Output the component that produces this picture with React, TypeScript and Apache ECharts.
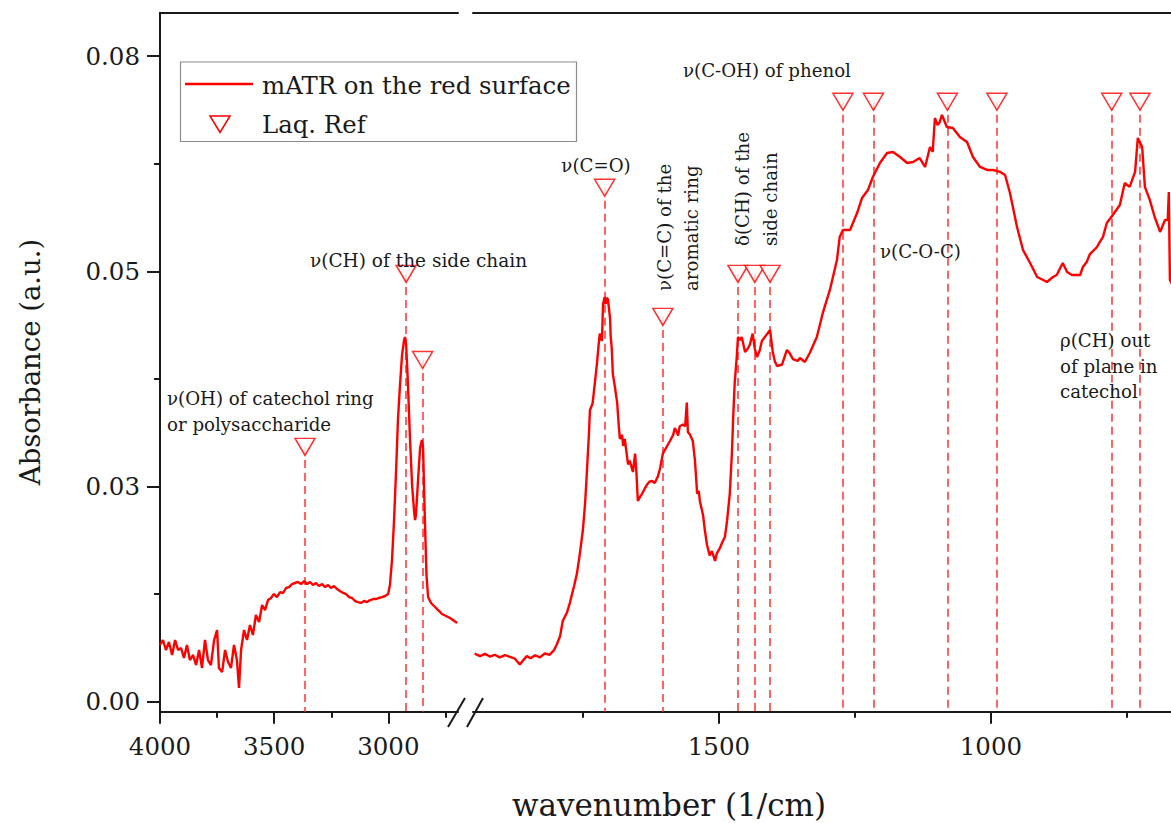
import React, { useEffect, useRef } from 'react';
import * as echarts from 'echarts';

const FONT = '"DejaVu Serif", "Liberation Serif", serif';
const INK = '#1a1a1a';
const RED = '#ff0000';
const REF_RED = '#ff3030';

// ---- data (wavenumber, absorbance) ----
const leftSpectrum: number[][] = [
  [4000, 0.00659], [3987, 0.00717], [3974, 0.00601], [3961, 0.00694], [3947, 0.00543],
  [3934, 0.00717], [3921, 0.00601], [3908, 0.00624], [3895, 0.00508], [3882, 0.00659],
  [3869, 0.00484], [3855, 0.00543], [3842, 0.00426], [3829, 0.00601], [3816, 0.00392],
  [3803, 0.00717], [3790, 0.00484], [3777, 0.00426], [3763, 0.00717], [3750, 0.00833],
  [3742, 0.00392], [3728, 0.00345], [3715, 0.00601], [3702, 0.00461], [3689, 0.00392],
  [3676, 0.00659], [3663, 0.00484], [3654, 0.00159], [3645, 0.00601], [3632, 0.00833],
  [3619, 0.00717], [3606, 0.00891], [3593, 0.00775], [3580, 0.01007], [3566, 0.00926],
  [3553, 0.01123], [3540, 0.01065], [3527, 0.01181], [3514, 0.01205], [3501, 0.01251],
  [3488, 0.01216], [3474, 0.01274], [3461, 0.01263], [3448, 0.01321], [3435, 0.01332],
  [3422, 0.01367], [3409, 0.01379], [3396, 0.01391], [3382, 0.01367], [3369, 0.01402],
  [3356, 0.01367], [3343, 0.01391], [3330, 0.01356], [3317, 0.01379], [3304, 0.01344],
  [3290, 0.01367], [3277, 0.01332], [3264, 0.01356], [3251, 0.01321], [3238, 0.01344],
  [3225, 0.01309], [3212, 0.01286], [3198, 0.01263], [3185, 0.01251], [3172, 0.01216],
  [3159, 0.01205], [3146, 0.0117], [3133, 0.01158], [3120, 0.01147], [3106, 0.0117],
  [3093, 0.01158], [3080, 0.01181], [3067, 0.01193], [3054, 0.01193], [3041, 0.01205],
  [3028, 0.01216], [3014, 0.01228], [3001, 0.01251], [2993, 0.01356], [2984, 0.01646],
  [2975, 0.02111], [2966, 0.02692], [2958, 0.03272], [2949, 0.03679], [2940, 0.04028],
  [2931, 0.04202], [2927, 0.04237], [2922, 0.04144], [2914, 0.03679], [2905, 0.0304],
  [2896, 0.02517], [2887, 0.02204], [2883, 0.02111], [2879, 0.02169], [2870, 0.02575],
  [2861, 0.02947], [2853, 0.0304], [2848, 0.02947], [2840, 0.02111], [2833, 0.01472],
  [2826, 0.01216], [2813, 0.01147], [2800, 0.01112], [2782, 0.01065], [2765, 0.01019],
  [2747, 0.00996], [2730, 0.00972], [2717, 0.00949], [2699, 0.00914],
];

const rightSpectrum: number[][] = [
  [1949, 0.00559], [1939, 0.0053], [1930, 0.00556], [1921, 0.00525], [1912, 0.00545],
  [1903, 0.00515], [1893, 0.0054], [1884, 0.0052], [1875, 0.005], [1866, 0.00432],
  [1860, 0.0048], [1853, 0.0053], [1846, 0.00505], [1838, 0.0054], [1829, 0.00515],
  [1820, 0.0056], [1811, 0.00545], [1803, 0.006], [1798, 0.00665], [1792, 0.0076],
  [1787, 0.00938], [1779, 0.0104], [1774, 0.01147], [1766, 0.0135], [1761, 0.01488],
  [1756, 0.017], [1750, 0.01995], [1746, 0.023], [1743, 0.02628], [1739, 0.031],
  [1737, 0.03389], [1733, 0.0345], [1732, 0.03474], [1728, 0.037], [1724, 0.03938],
  [1721, 0.0415], [1719, 0.04276], [1715, 0.0419], [1713, 0.04614], [1710, 0.04701],
  [1708, 0.0462], [1706, 0.0469], [1704, 0.04678], [1700, 0.04446], [1699, 0.0425],
  [1697, 0.04109], [1695, 0.03812], [1691, 0.0365], [1687, 0.03474], [1684, 0.032],
  [1682, 0.03052], [1678, 0.031], [1676, 0.02971], [1673, 0.03052], [1667, 0.02756],
  [1664, 0.028], [1658, 0.02668], [1654, 0.02882], [1652, 0.027], [1651, 0.02587],
  [1649, 0.02332], [1645, 0.0238], [1641, 0.02418], [1636, 0.0248], [1632, 0.02523],
  [1627, 0.0256], [1623, 0.02564], [1618, 0.0254], [1612, 0.0262], [1608, 0.02715],
  [1603, 0.02882], [1597, 0.0295], [1590, 0.03029], [1584, 0.031], [1581, 0.0318],
  [1577, 0.0313], [1575, 0.03092], [1572, 0.032], [1566, 0.0322], [1562, 0.032],
  [1559, 0.03474], [1557, 0.03133], [1553, 0.031], [1548, 0.03029], [1544, 0.028],
  [1540, 0.02418], [1537, 0.0245], [1535, 0.02332], [1529, 0.02163], [1526, 0.02],
  [1522, 0.01826], [1517, 0.01698], [1513, 0.0175], [1507, 0.01635], [1504, 0.0172],
  [1498, 0.01786], [1494, 0.0185], [1489, 0.01913], [1485, 0.021], [1480, 0.02418],
  [1476, 0.029], [1474, 0.03261], [1471, 0.037], [1467, 0.04022], [1465, 0.04237],
  [1461, 0.042], [1458, 0.04237], [1452, 0.04063], [1447, 0.041], [1443, 0.0415],
  [1438, 0.04276], [1434, 0.041], [1430, 0.04004], [1425, 0.0408], [1421, 0.0419],
  [1414, 0.0425], [1406, 0.04318], [1401, 0.04063], [1397, 0.0395], [1393, 0.039],
  [1384, 0.03917], [1375, 0.04086], [1370, 0.0405], [1364, 0.03981], [1355, 0.03958],
  [1351, 0.03993], [1342, 0.03946], [1333, 0.04051], [1320, 0.04237], [1309, 0.04516],
  [1296, 0.04783], [1283, 0.05131], [1278, 0.05398], [1272, 0.0548], [1259, 0.0548],
  [1246, 0.05677], [1237, 0.05851], [1226, 0.05944], [1217, 0.06095], [1204, 0.06258],
  [1191, 0.06374], [1180, 0.06386], [1167, 0.06328], [1154, 0.06258], [1143, 0.0627],
  [1131, 0.06316], [1121, 0.06212], [1112, 0.06444], [1107, 0.06386], [1103, 0.06781],
  [1098, 0.067], [1094, 0.06735], [1090, 0.06816], [1081, 0.06676], [1070, 0.06665],
  [1057, 0.0656], [1044, 0.06502], [1033, 0.06328], [1020, 0.06212], [1007, 0.06177],
  [996, 0.06177], [983, 0.06154], [974, 0.06119], [965, 0.0591], [952, 0.05515],
  [941, 0.05248], [928, 0.05096], [915, 0.04934], [904, 0.04899], [897, 0.04876],
  [886, 0.04934], [879, 0.04957], [868, 0.05096], [860, 0.04992], [851, 0.04957],
  [842, 0.04957], [836, 0.04957], [831, 0.0505], [824, 0.05108], [818, 0.052],
  [805, 0.05282], [800, 0.0534], [794, 0.054], [787, 0.05561], [776, 0.05654],
  [763, 0.0577], [754, 0.06026], [745, 0.0598], [735, 0.06154], [730, 0.06549],
  [722, 0.06444], [717, 0.0598], [708, 0.05829], [699, 0.05631], [689, 0.05457],
  [680, 0.05596], [675, 0.05596], [673, 0.05921], [671, 0.04899], [667, 0.0485],
];

const leftRefPeaks: number[][] = [[3365, 0.0296], [2922, 0.0497], [2850, 0.0397]];
const rightRefPeaks: number[][] = [
  [1710, 0.0597], [1603, 0.0447], [1465, 0.0497], [1434, 0.0497], [1406, 0.0497],
  [1272, 0.0697], [1216, 0.0697], [1080, 0.0697], [989, 0.0697], [778, 0.0697], [726, 0.0697],
];

const yTickValues = [0, 0.025, 0.05, 0.075];
const yTickLabels = ['0.00', '0.03', '0.05', '0.08'];
const yMinorValues = [0.0125, 0.0375, 0.0625];
const leftXTicks = [4000, 3500, 3000];
const leftXMinor = [3750, 3250, 2750];
const rightXTicks = [1500, 1000];
const rightXMinor = [1750, 1250, 750];

const Y_MIN = -0.00116;
const Y_MAX = 0.08004;
const LEFT_X = [2695, 4000];
const RIGHT_X = [669, 1952];

const GRID_TOP = 12.7;
const GRID_H = 699;

function refLines(peaks: number[][]) {
  return peaks.map(([w, v]) => [{ coord: [w, v] }, { coord: [w, Y_MIN] }]);
}

const axisLineStyle = { color: INK, width: 2 };

function xAxes(gridIndex: number, range: number[], major: number[], minor: number[]) {
  return [
    {
      gridIndex, type: 'value', position: 'bottom', inverse: true, min: range[0], max: range[1],
      axisLine: { show: true, onZero: false, lineStyle: axisLineStyle },
      axisTick: { show: true, length: 12, customValues: major, lineStyle: axisLineStyle },
      axisLabel: {
        show: true, customValues: major, margin: 22, fontSize: 24.5, fontFamily: FONT, color: INK,
        formatter: (v: number) => String(v),
      },
      splitLine: { show: false },
    },
    {
      gridIndex, type: 'value', position: 'bottom', inverse: true, min: range[0], max: range[1],
      axisLine: { show: false, onZero: false },
      axisTick: { show: true, length: 6, customValues: minor, lineStyle: axisLineStyle },
      axisLabel: { show: false },
      splitLine: { show: false },
    },
    {
      gridIndex, type: 'value', position: 'top', inverse: true, min: range[0], max: range[1],
      axisLine: { show: true, onZero: false, lineStyle: axisLineStyle },
      axisTick: { show: false },
      axisLabel: { show: false },
      splitLine: { show: false },
    },
  ];
}

const textBase = { fontFamily: FONT, fill: INK };

function label(text: string, x: number, y: number, opts: any = {}) {
  const { rotation, size, align, valign, lineHeight } = opts;
  return {
    type: 'text', x, y, rotation: rotation || 0, z: 20,
    style: {
      ...textBase, text, fontSize: size || 18.2,
      align: align || 'left', textAlign: align || 'left',
      verticalAlign: valign || 'middle', textVerticalAlign: valign || 'middle',
      lineHeight: lineHeight || 26,
    },
  };
}

export default function App() {
  const ref = useRef<HTMLDivElement>(null);
  useEffect(() => {
    if (!ref.current) return;
    const chart = echarts.init(ref.current, null, { renderer: 'svg' });
    const refSeries = (xi: number, yi: number, peaks: number[][]) => ({
      type: 'scatter', xAxisIndex: xi, yAxisIndex: yi, data: peaks, z: 5,
      symbol: 'triangle', symbolRotate: 180, symbolSize: [20, 17],
      itemStyle: { color: '#ffffff', borderColor: RED, borderWidth: 1.5 },
      markLine: {
        silent: true, symbol: ['none', 'none'], label: { show: false }, z: 3,
        lineStyle: { color: REF_RED, width: 1.5, type: [8, 5] },
        data: refLines(peaks),
      },
    });
    const option: any = {
      animation: false,
      backgroundColor: '#ffffff',
      grid: [
        { left: 160, top: GRID_TOP, width: 298, height: GRID_H },
        { left: 473, top: GRID_TOP, width: 698, height: GRID_H },
      ],
      xAxis: [
        ...xAxes(0, LEFT_X, leftXTicks, leftXMinor),
        ...xAxes(1, RIGHT_X, rightXTicks, rightXMinor),
      ],
      yAxis: [
        {
          gridIndex: 0, type: 'value', position: 'left', min: Y_MIN, max: Y_MAX,
          axisLine: { show: true, onZero: false, lineStyle: axisLineStyle },
          axisTick: { show: true, length: 13, customValues: yTickValues, lineStyle: axisLineStyle },
          axisLabel: {
            show: true, customValues: yTickValues, margin: 20, fontSize: 24.5, fontFamily: FONT, color: INK,
            formatter: (v: number) => {
              const i = yTickValues.findIndex((t) => Math.abs(t - v) < 1e-9);
              return i >= 0 ? yTickLabels[i] : '';
            },
          },
          splitLine: { show: false },
        },
        {
          gridIndex: 0, type: 'value', position: 'left', min: Y_MIN, max: Y_MAX,
          axisLine: { show: false, onZero: false },
          axisTick: { show: true, length: 6, customValues: yMinorValues, lineStyle: axisLineStyle },
          axisLabel: { show: false },
          splitLine: { show: false },
        },
        {
          gridIndex: 1, type: 'value', min: Y_MIN, max: Y_MAX, show: false,
          axisLine: { onZero: false }, splitLine: { show: false },
        },
      ],
      series: [
        {
          type: 'line', xAxisIndex: 0, yAxisIndex: 0, data: leftSpectrum, symbol: 'none',
          lineStyle: { color: RED, width: 2.4 }, z: 4, clip: true,
        },
        {
          type: 'line', xAxisIndex: 3, yAxisIndex: 2, data: rightSpectrum, symbol: 'none',
          lineStyle: { color: RED, width: 2.4 }, z: 4, clip: true,
        },
        refSeries(0, 0, leftRefPeaks),
        refSeries(3, 2, rightRefPeaks),
      ],
      graphic: [
        // legend
        { type: 'rect', z: 19, shape: { x: 180.5, y: 62, width: 396, height: 79.5 }, style: { fill: '#ffffff', stroke: '#8c8c8c', lineWidth: 1.2 } },
        { type: 'line', z: 20, shape: { x1: 185, y1: 84, x2: 253, y2: 84 }, style: { stroke: RED, lineWidth: 2.5 } },
        { type: 'polygon', z: 20, shape: { points: [[210, 116], [230, 116], [220, 132.5]] }, style: { fill: '#ffffff', stroke: RED, lineWidth: 1.5 } },
        label('mATR on the red surface', 262, 85, { size: 24.4 }),
        label('Laq. Ref', 262, 124, { size: 24.4 }),
        // annotations
        label('ν(OH) of catechol ring\nor polysaccharide', 167, 385, { valign: 'top', lineHeight: 26 }),
        label('ν(CH) of the side chain', 310, 260, { size: 18.5 }),
        label('ν(C=O)', 596, 165, { align: 'center' }),
        label('ν(C=C) of the\naromatic ring', 651, 291, { rotation: Math.PI / 2, valign: 'top', lineHeight: 27 }),
        label('δ(CH) of the\nside chain', 728, 246, { rotation: Math.PI / 2, valign: 'top', lineHeight: 28 }),
        label('ν(C-OH) of phenol', 683, 70),
        label('ν(C-O-C)', 880, 251),
        label('ρ(CH) out\nof plane in\ncatechol', 1060, 328, { valign: 'top', lineHeight: 25.5 }),
        // axis titles
        label('wavenumber (1/cm)', 669, 805, { size: 31, align: 'center' }),
        label('Absorbance (a.u.)', 30, 362, { size: 27.5, align: 'center', rotation: Math.PI / 2 }),
        // axis break marks
        { type: 'line', z: 20, shape: { x1: 448, y1: 727, x2: 465, y2: 698 }, style: { stroke: INK, lineWidth: 2 } },
        { type: 'line', z: 20, shape: { x1: 467, y1: 727, x2: 483, y2: 698 }, style: { stroke: INK, lineWidth: 2 } },
      ],
    };
    chart.setOption(option);
    return () => chart.dispose();
  }, []);
  return <div ref={ref} style={{ position: 'absolute', left: 0, top: 0, width: 1171, height: 823 }} />;
}
